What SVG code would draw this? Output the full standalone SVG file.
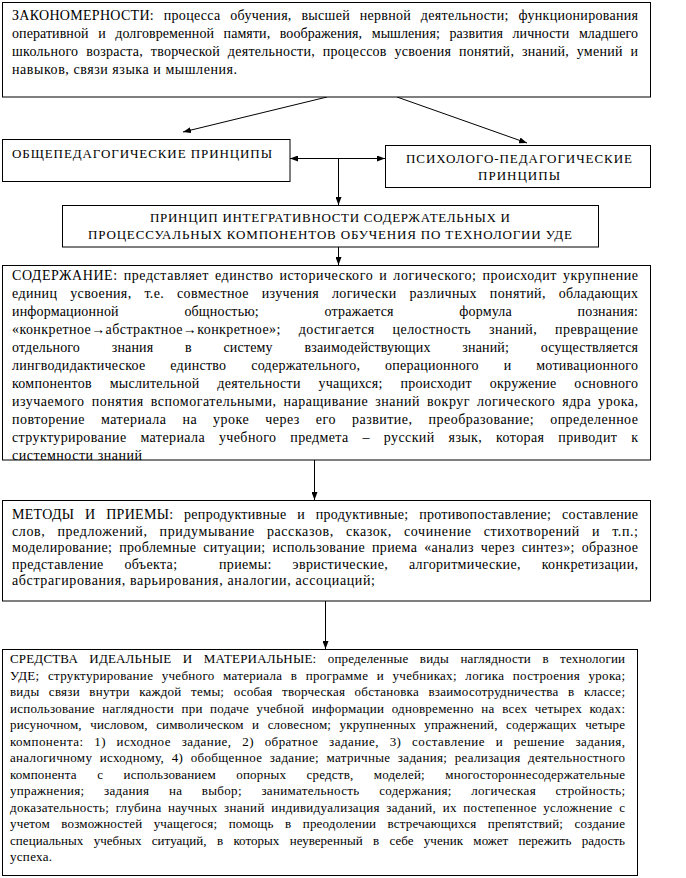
<svg xmlns="http://www.w3.org/2000/svg" width="686" height="878" viewBox="0 0 686 878">
<style>
.box{fill:#fff;stroke:#000;stroke-width:1}
text{font-family:"Liberation Serif","Times New Roman","DejaVu Serif",serif;fill:#000}
.t{font-size:14px}
.s{font-size:13px}
.c{font-size:13px}
.ln{stroke:#000;stroke-width:1;fill:none}
</style>
<defs>
<marker id="ah" viewBox="0 0 8 6" markerWidth="8" markerHeight="6" refX="8" refY="3" orient="auto-start-reverse" markerUnits="userSpaceOnUse">
<path d="M0,0 L8,3 L0,6 z" fill="#000"/>
</marker>
</defs>

<g id="connectors">
<line class="ln" x1="327" y1="97" x2="183" y2="132" marker-end="url(#ah)"/>
<line class="ln" x1="397" y1="97" x2="527" y2="143" marker-end="url(#ah)"/>
<line class="ln" x1="290" y1="158.5" x2="385" y2="158.5" marker-start="url(#ah)" marker-end="url(#ah)"/>
<line class="ln" x1="338.5" y1="158.5" x2="338.5" y2="205" marker-end="url(#ah)"/>
<line class="ln" x1="338.5" y1="247" x2="338.5" y2="265" marker-end="url(#ah)"/>
<line class="ln" x1="314.5" y1="460" x2="314.5" y2="500" marker-end="url(#ah)"/>
<line class="ln" x1="325.5" y1="601" x2="325.5" y2="649" marker-end="url(#ah)"/>
</g>

<g id="laws">
<rect class="box" x="2.5" y="2.5" width="648" height="94.5"/>
<text class="t" x="12" y="19.5" textLength="626" lengthAdjust="spacing" word-spacing="6">ЗАКОНОМЕРНОСТИ: процесса обучения, высшей нервной деятельности; функционирования</text>
<text class="t" x="12" y="37.7" textLength="626" lengthAdjust="spacing" word-spacing="6">оперативной и долговременной памяти, воображения, мышления; развития личности младшего</text>
<text class="t" x="12" y="55.9" textLength="626" lengthAdjust="spacing" word-spacing="4">школьного возраста, творческой деятельности, процессов усвоения понятий, знаний, умений и</text>
<text class="t" x="12" y="74.1" textLength="225" lengthAdjust="spacing">навыков, связи языка и мышления.</text>
</g>

<g id="general">
<rect class="box" x="2.5" y="139.5" width="287.5" height="42"/>
<text class="s" x="12" y="158" textLength="260" lengthAdjust="spacing">ОБЩЕПЕДАГОГИЧЕСКИЕ ПРИНЦИПЫ</text>
</g>

<g id="psych">
<rect class="box" x="385.5" y="145.5" width="265" height="42"/>
<text class="s" x="519" y="163" text-anchor="middle" textLength="226" lengthAdjust="spacing">ПСИХОЛОГО-ПЕДАГОГИЧЕСКИЕ</text>
<text class="s" x="519" y="180" text-anchor="middle" textLength="82" lengthAdjust="spacing">ПРИНЦИПЫ</text>
</g>

<g id="principle">
<rect class="box" x="62.5" y="205.5" width="536" height="41.5"/>
<text class="s" x="330" y="222" text-anchor="middle" textLength="360" lengthAdjust="spacing">ПРИНЦИП ИНТЕГРАТИВНОСТИ СОДЕРЖАТЕЛЬНЫХ И</text>
<text class="s" x="330" y="239" text-anchor="middle" textLength="484" lengthAdjust="spacing">ПРОЦЕССУАЛЬНЫХ КОМПОНЕНТОВ ОБУЧЕНИЯ ПО ТЕХНОЛОГИИ УДЕ</text>
</g>

<g id="content">
<rect class="box" x="2.5" y="265.5" width="648" height="194.5"/>
<text class="t" x="12" y="280" textLength="626" lengthAdjust="spacing" word-spacing="2">СОДЕРЖАНИЕ: представляет единство исторического и логического; происходит укрупнение</text>
<text class="t" x="12" y="298" textLength="626" lengthAdjust="spacing" word-spacing="9">единиц усвоения, т.е. совместное изучения логически различных понятий, обладающих</text>
<text class="t" x="12" y="316" textLength="626" lengthAdjust="spacing" word-spacing="62">информационной общностью; отражается формула познания:</text>
<text class="t" x="12" y="334" textLength="626" lengthAdjust="spacing" word-spacing="14">«конкретное→абстрактное→конкретное»; достигается целостность знаний, превращение</text>
<text class="t" x="12" y="352" textLength="626" lengthAdjust="spacing" word-spacing="28">отдельного знания в систему взаимодействующих знаний; осуществляется</text>
<text class="t" x="12" y="370" textLength="626" lengthAdjust="spacing" word-spacing="21">лингводидактическое единство содержательного, операционного и мотивационного</text>
<text class="t" x="12" y="388" textLength="626" lengthAdjust="spacing" word-spacing="14">компонентов мыслительной деятельности учащихся; происходит окружение основного</text>
<text class="t" x="12" y="406" textLength="626" lengthAdjust="spacing" word-spacing="3">изучаемого понятия вспомогательными, наращивание знаний вокруг логического ядра урока,</text>
<text class="t" x="12" y="424" textLength="626" lengthAdjust="spacing" word-spacing="12">повторение материала на уроке через его развитие, преобразование; определенное</text>
<text class="t" x="12" y="442" textLength="626" lengthAdjust="spacing" word-spacing="10">структурирование материала учебного предмета – русский язык, которая приводит к</text>
<text class="t" x="12" y="460" textLength="130" lengthAdjust="spacing">системности знаний</text>
</g>

<g id="methods">
<rect class="box" x="2.5" y="500.5" width="648" height="100.5"/>
<text class="t" x="12" y="519" textLength="626" lengthAdjust="spacing" word-spacing="7">МЕТОДЫ И ПРИЕМЫ: репродуктивные и продуктивные; противопоставление; составление</text>
<text class="t" x="12" y="535.5" textLength="626" lengthAdjust="spacing" word-spacing="8">слов, предложений, придумывание рассказов, сказок, сочинение стихотворений и т.п.;</text>
<text class="t" x="12" y="552" textLength="626" lengthAdjust="spacing" word-spacing="3">моделирование; проблемные ситуации; использование приема «анализ через синтез»; образное</text>
<text class="t" x="12" y="568.5" textLength="626" lengthAdjust="spacing" word-spacing="17" xml:space="preserve">представление объекта;  приемы: эвристические, алгоритмические, конкретизации,</text>
<text class="t" x="12" y="585" textLength="363" lengthAdjust="spacing">абстрагирования, варьирования, аналогии, ассоциаций;</text>
</g>

<g id="means">
<rect class="box" x="2.5" y="649.5" width="635" height="226"/>
<text class="c" x="10" y="663" textLength="615" lengthAdjust="spacing" word-spacing="8">СРЕДСТВА ИДЕАЛЬНЫЕ И МАТЕРИАЛЬНЫЕ: определенные виды наглядности в технологии</text>
<text class="c" x="10" y="679.5" textLength="615" lengthAdjust="spacing" word-spacing="5">УДЕ; структурирование учебного материала в программе и учебниках; логика построения урока;</text>
<text class="c" x="10" y="696" textLength="615" lengthAdjust="spacing" word-spacing="6">виды связи внутри каждой темы; особая творческая обстановка взаимосотрудничества в классе;</text>
<text class="c" x="10" y="712.5" textLength="615" lengthAdjust="spacing" word-spacing="4">использование наглядности при подаче учебной информации одновременно на всех четырех кодах:</text>
<text class="c" x="10" y="729" textLength="615" lengthAdjust="spacing" word-spacing="5">рисуночном, числовом, символическом и словесном; укрупненных упражнений, содержащих четыре</text>
<text class="c" x="10" y="745.5" textLength="615" lengthAdjust="spacing" word-spacing="7">компонента: 1) исходное задание, 2) обратное задание, 3) составление и решение задания,</text>
<text class="c" x="10" y="762" textLength="615" lengthAdjust="spacing" word-spacing="4">аналогичному исходному, 4) обобщенное задание; матричные задания; реализация деятельностного</text>
<text class="c" x="10" y="778.5" textLength="615" lengthAdjust="spacing" word-spacing="17">компонента с использованием опорных средств, моделей; многостороннесодержательные</text>
<text class="c" x="10" y="795" textLength="615" lengthAdjust="spacing" word-spacing="16">упражнения; задания на выбор; занимательность содержания; логическая стройность;</text>
<text class="c" x="10" y="811.5" textLength="615" lengthAdjust="spacing" word-spacing="3">доказательность; глубина научных знаний индивидуализация заданий, их постепенное усложнение с</text>
<text class="c" x="10" y="828" textLength="615" lengthAdjust="spacing" word-spacing="8">учетом возможностей учащегося; помощь в преодолении встречающихся препятствий; создание</text>
<text class="c" x="10" y="844.5" textLength="615" lengthAdjust="spacing" word-spacing="7">специальных учебных ситуаций, в которых неуверенный в себе ученик может пережить радость</text>
<text class="c" x="10" y="861" textLength="42" lengthAdjust="spacing">успеха.</text>
</g>
</svg>
